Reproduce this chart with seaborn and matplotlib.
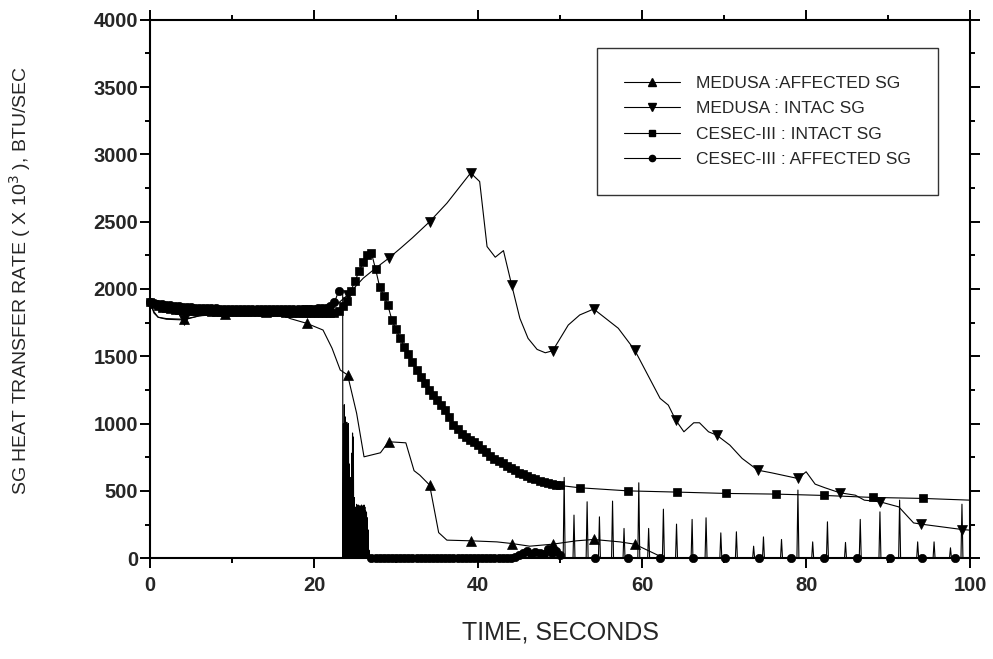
import numpy as np
import pandas as pd
import matplotlib; matplotlib.use("Agg")
import matplotlib.pyplot as plt
from matplotlib.lines import Line2D
from matplotlib.ticker import MultipleLocator
import seaborn as sns

# ---- data ----
# MEDUSA : affected SG (triangle up)
med_aff_t = [0, 0.5, 1, 2, 4.1, 6, 9.1, 12, 14.1, 16.2, 17.1, 19.1, 21.1, 22.2, 23.2, 24.1, 25.2, 26.1,
             28.1, 29.1, 31.2, 32.2, 32.9, 34.1, 35.2, 36.2, 39.1, 42.3, 44.1, 46.3, 49.1, 52.0, 54.1,
             57.3, 59.1, 62.0, 63.0]
med_aff_v = [1900, 1820, 1790, 1780, 1775, 1800, 1815, 1828, 1830, 1807, 1780, 1745, 1695, 1560, 1398, 1361,
             1076, 753, 783, 865, 857, 650, 617, 543, 190, 134, 129, 121, 109, 89, 104, 129, 139, 121, 104,
             20, 0]
med_aff_mk = [4.1, 9.1, 14.1, 19.1, 24.1, 29.1, 34.1, 39.1, 44.1, 49.1, 54.1, 59.1]

# MEDUSA : intact SG (triangle down)
med_int_t = [0, 0.5, 1, 2, 4.1, 6, 9.1, 12, 14.1, 17, 19.1, 21, 22.5, 24.1, 26, 27.5, 29.1, 30.5, 32, 34.1,
             36.2, 39.1, 40.2, 41.1, 42.1, 43.1, 44.1, 45.1, 46.1, 47.2, 48.2, 49.1, 51.0, 52.4, 54.1, 55.3,
             57.1, 59.1, 62.2, 63.2, 64.1, 65.1, 66.3, 67.0, 68.1, 69.1, 70.7, 72.2, 74.1, 75.8, 79.0, 80.0,
             81.1, 82.3, 84.1, 86.0, 87.1, 89.0, 91.3, 93.1, 94.0, 99.0, 100]
med_int_v = [1900, 1830, 1790, 1775, 1770, 1800, 1830, 1835, 1835, 1840, 1845, 1850, 1870, 1955, 2080, 2154,
             2228, 2300, 2380, 2500, 2637, 2862, 2798, 2315, 2236, 2285, 2030, 1782, 1633, 1551, 1526, 1541,
             1732, 1807, 1851, 1794, 1708, 1546, 1187, 1137, 1026, 939, 1006, 1006, 939, 914, 840, 741, 654,
             634, 592, 642, 550, 523, 486, 468, 431, 419, 381, 262, 253, 213, 208]
med_int_mk = [4.1, 9.1, 14.1, 19.1, 24.1, 29.1, 34.1, 39.1, 44.1, 49.1, 54.1, 59.1, 64.1, 69.1, 74.1,
              79.0, 84.1, 89.0, 94.0, 99.0]

# CESEC-III : intact SG (square), dense part every 0.5 s up to 50 s
ces_int_dense = [1900, 1885, 1872, 1862, 1855, 1850, 1846, 1843, 1840, 1838, 1836, 1835, 1834, 1833,
                 1833, 1832, 1832, 1831, 1831, 1830, 1830, 1830, 1829, 1829, 1828, 1828, 1828, 1827,
                 1827, 1827, 1826, 1826, 1826, 1825, 1825, 1825, 1825, 1824, 1824, 1824, 1824, 1823,
                 1823, 1822, 1822, 1825, 1840, 1870, 1907, 1985, 2060, 2130, 2200, 2255, 2268, 2150,
                 2017, 1950, 1880, 1770, 1700, 1635, 1572, 1515, 1460, 1400, 1345, 1298, 1250, 1210,
                 1172, 1135, 1100, 1050, 992, 958, 925, 900, 880, 860, 838, 812, 787, 762, 740, 722,
                 705, 688, 670, 652, 636, 622, 610, 597, 586, 575, 566, 558, 551, 545, 540]
ces_int_tail_t = [52.4, 58.3, 64.2, 70.2, 76.3, 82.2, 88.2, 94.2, 100]
ces_int_tail_v = [523, 500, 491, 481, 476, 466, 451, 444, 431]

# CESEC-III : affected SG (circle)
ces_aff_early = [1900, 1895, 1890, 1886, 1882, 1878, 1875, 1872, 1869, 1866, 1864, 1862, 1860, 1858,
                 1857, 1856, 1855, 1854, 1853, 1852, 1851, 1850, 1850, 1850, 1850, 1850, 1850, 1850,
                 1850, 1850, 1850, 1850, 1850, 1850, 1850, 1850, 1850, 1850, 1850, 1850, 1852, 1855,
                 1858, 1862, 1870, 1900, 1985]
ces_aff_drop_t = [23.5, 23.52]
ces_aff_drop_v = [1975, 0]
burst_peaks = [1000, 1140, 1050, 980, 1010, 990, 1000, 700, 600, 500, 780, 930, 900, 450, 300, 380,
               400, 390, 395, 380, 390, 385, 395, 380, 390, 395, 380, 350, 340, 300, 210, 60]
ces_aff_mid = [0] * 35 + [10, 20, 40, 55, 30, 45, 35, 30, 65, 40, 50, 25]   # 27.0 .. 50.0 s
spike_t = [50.5, 51.7, 53.3, 54.8, 56.4, 57.8, 59.6, 60.8, 62.6, 64.2, 66.1, 67.8, 69.6, 71.5, 73.6,
           74.8, 77.0, 79.0, 80.8, 82.6, 84.8, 86.6, 89.0, 91.4, 93.6, 95.6, 97.6, 99.0]
spike_h = [600, 320, 419, 307, 424, 221, 560, 221, 364, 253, 288, 300, 188, 196, 89,
           158, 139, 506, 121, 270, 117, 288, 344, 431, 121, 121, 77, 401]
ces_aff_mk_late = [54.3, 58.3, 62.2, 66.2, 70.1, 74.2, 78.2, 82.2, 86.2, 90.2, 94.1, 98.2]

# ---- build polylines ----
med_aff = pd.DataFrame({"t": med_aff_t, "v": med_aff_v})
med_aff["mk"] = med_aff["t"].isin(med_aff_mk)
med_int = pd.DataFrame({"t": med_int_t, "v": med_int_v})
med_int["mk"] = med_int["t"].isin(med_int_mk)

grid = np.arange(0, 50.5, 0.5)
ces_int = pd.concat([
    pd.DataFrame({"t": grid, "v": ces_int_dense, "mk": True}),
    pd.DataFrame({"t": ces_int_tail_t, "v": ces_int_tail_v, "mk": [True] * 8 + [False]}),
], ignore_index=True)

bt = np.arange(23.6, 26.75, 0.1)
burst_t, burst_v = [], []
for t, h in zip(bt, burst_peaks):
    burst_t += [t - 0.05, t]
    burst_v += [0, h]
burst_t.append(26.75); burst_v.append(0)

late = [(m, 0, True) for m in ces_aff_mk_late] + [(100, 0, False)]
for t, h in zip(spike_t, spike_h):
    late += [(t - 0.12, 0, False), (t, h, False), (t + 0.12, 0, False)]
late.sort(key=lambda r: r[0])
ces_aff = pd.concat([
    pd.DataFrame({"t": np.arange(0, 23.5, 0.5), "v": ces_aff_early, "mk": True}),
    pd.DataFrame({"t": ces_aff_drop_t, "v": ces_aff_drop_v, "mk": False}),
    pd.DataFrame({"t": burst_t, "v": burst_v, "mk": False}),
    pd.DataFrame({"t": np.arange(27, 50.5, 0.5), "v": ces_aff_mid, "mk": True}),
    pd.DataFrame(late, columns=["t", "v", "mk"]),
], ignore_index=True)

# ---- plot ----
sns.set_style("ticks")
plt.rcParams["font.family"] = ["Liberation Sans", "DejaVu Sans"]

fig = plt.figure(figsize=(9.93, 6.59), dpi=100)
ax = fig.add_axes([0.151, 0.153, 0.826, 0.817])

series = [
    (med_aff, "^", 7.5, "MEDUSA :AFFECTED SG"),
    (med_int, "v", 7.5, "MEDUSA : INTAC SG"),
    (ces_int, "s", 6, "CESEC-III : INTACT SG"),
    (ces_aff, "o", 6, "CESEC-III : AFFECTED SG"),
]
handles = []
for df, mk, ms, lab in series:
    sns.lineplot(data=df, x="t", y="v", ax=ax, estimator=None, sort=False, color="black",
                 lw=0.8, marker=mk, markersize=ms, markeredgecolor="black", markeredgewidth=0.5,
                 markevery=list(df["mk"]), clip_on=False)
    handles.append(Line2D([], [], color="black", lw=0.8, marker=mk, markersize=ms - 1.5, label=lab))

ax.set_xlim(0, 100)
ax.set_ylim(0, 4000)
ax.xaxis.set_major_locator(MultipleLocator(20))
ax.xaxis.set_minor_locator(MultipleLocator(10))
ax.yaxis.set_major_locator(MultipleLocator(500))
ax.yaxis.set_minor_locator(MultipleLocator(250))
ax.tick_params(which="both", direction="out", top=True, right=True, width=1.4, color="black")
ax.tick_params(which="major", length=7)
ax.tick_params(which="minor", length=3.5)
ax.tick_params(axis="x", which="major", pad=6)
ax.tick_params(axis="y", which="major", pad=1.5)
for lbl in ax.get_xticklabels() + ax.get_yticklabels():
    lbl.set_fontweight("bold"); lbl.set_fontsize(14.5)
for s in ax.spines.values():
    s.set_linewidth(1.5); s.set_color("black")

ax.set_xlabel("TIME, SECONDS", fontsize=18)
ax.set_ylabel("SG HEAT TRANSFER RATE ( X 10$^3$ ), BTU/SEC", fontsize=14)
ax.xaxis.set_label_coords(0.5, -0.115)
ax.yaxis.set_label_coords(-0.142, 0.515)

leg = ax.legend(handles=handles, loc="upper right", bbox_to_anchor=(0.961, 0.948), fontsize=12.5,
                frameon=True, fancybox=False, edgecolor="black", borderpad=1.6, handlelength=3.2,
                handletextpad=0.9, labelspacing=0.6, borderaxespad=0)
leg.get_frame().set_linewidth(1.0)

fig.savefig("out.png", dpi=100)
